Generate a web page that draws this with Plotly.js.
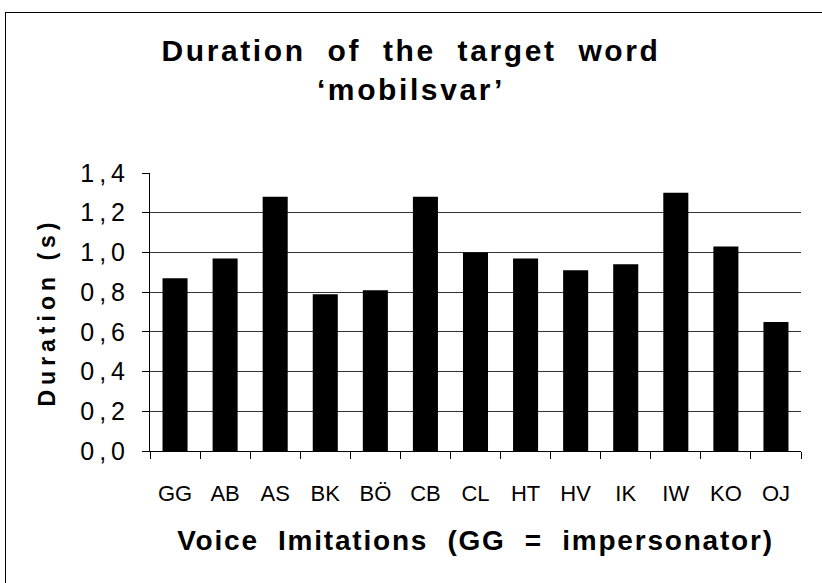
<!DOCTYPE html>
<html>
<head>
<meta charset="utf-8">
<script src="https://cdn.plot.ly/plotly-3.0.1.min.js"></script>
<style>
html,body{margin:0;padding:0;background:#fff;}
#wrap{position:relative;width:822px;height:583px;overflow:hidden;}
#chart{width:822px;height:583px;}
#frame{position:absolute;left:5px;top:12px;width:830px;height:600px;border:1.5px solid #000;pointer-events:none;}
.gtitle{letter-spacing:2.6px;}
.xtitle{letter-spacing:1.8px;}
.ytitle{letter-spacing:5px;}
</style>
</head>
<body>
<div id="wrap"><div id="chart"></div><div id="frame"></div></div>
<script>
var categories = ["GG","AB","AS","BK","BÖ","CB","CL","HT","HV","IK","IW","KO","OJ"];
var durations = [0.87, 0.97, 1.28, 0.79, 0.81, 1.28, 1.00, 0.97, 0.91, 0.94, 1.30, 1.03, 0.65];
var yTicks = [0, 0.2, 0.4, 0.6, 0.8, 1.0, 1.2, 1.4];
var yTickText = yTicks.map(function (v) { return v.toFixed(1).replace(".", "\u2009,\u2009"); });

var S = "\u00A0";
var data = [{
  type: "bar",
  x: categories,
  y: durations,
  marker: {color: "#000000", line: {color: "#000", width: 0}},
  hoverinfo: "x+y"
}];

var layout = {
  width: 822, height: 583,
  paper_bgcolor: "#fff", plot_bgcolor: "#fff",
  margin: {l: 150, r: 21, t: 173, b: 132},
  bargap: 0.5,
  showlegend: false,
  title: {
    text: "Duration" + S + S + "of" + S + S + "the" + S + S + "target" + S + S + "word<br>‘mobilsvar’",
    font: {family: "Liberation Sans, Arial, sans-serif", size: 30, color: "#000", weight: "bold"},
    x: 0.5, xref: "container", xanchor: "center",
    y: 0.895, yref: "container", yanchor: "top"
  },
  xaxis: {
    type: "category",
    showline: true, linecolor: "#000", linewidth: 1,
    ticks: "outside", ticklen: 7, tickcolor: "#000",
    tickson: "boundaries",
    ticklabelstandoff: 23,
    showgrid: false,
    tickfont: {family: "Liberation Sans, Arial, sans-serif", size: 22, color: "#000"},
    title: {
      text: "Voice" + S + S + "Imitations" + S + S + "(GG" + S + S + "=" + S + S + "impersonator)",
      font: {family: "Liberation Sans, Arial, sans-serif", size: 28, color: "#000", weight: "bold"},
      standoff: 24
    },
    automargin: false
  },
  yaxis: {
    range: [0, 1.4],
    tickvals: yTicks,
    ticktext: yTickText,
    showline: true, linecolor: "#000", linewidth: 1,
    ticks: "outside", ticklen: 7, tickcolor: "#000",
    ticklabelstandoff: 12,
    showgrid: true, gridcolor: "#333", gridwidth: 1,
    zeroline: false,
    tickfont: {family: "Liberation Sans, Arial, sans-serif", size: 25, color: "#000"},
    title: {
      text: "Duration" + S + "(s)",
      font: {family: "Liberation Sans, Arial, sans-serif", size: 23, color: "#000", weight: "bold"},
      standoff: 18
    },
    automargin: false
  }
};

Plotly.newPlot("chart", data, layout, {displayModeBar: false, staticPlot: true});
</script>
</body>
</html>
